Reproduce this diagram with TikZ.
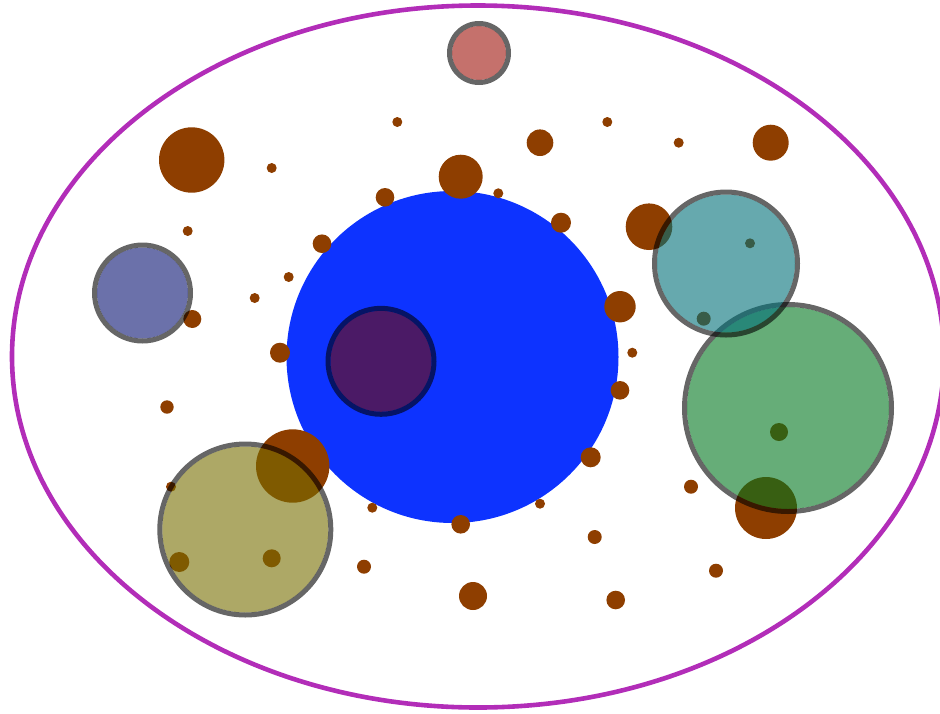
\documentclass[tikz,border=0pt]{standalone}
\begin{document}
\begin{tikzpicture}[x=1pt,y=-1pt]
\definecolor{ellc}{RGB}{178,45,184}
\definecolor{bluec}{RGB}{13,51,255}
\definecolor{brownc}{RGB}{142,62,0}
\definecolor{pinkc}{RGB}{158,18,10}
\definecolor{navyc}{RGB}{8,18,113}
\definecolor{tealc}{RGB}{0,112,120}
\definecolor{greenc}{RGB}{0,118,30}
\definecolor{olivec}{RGB}{118,110,0}
\definecolor{purplec}{RGB}{117,10,0}
\tikzset{
  glassfill/.style={fill opacity=0.6},
  glassring/.style={fill=black, fill opacity=0.6, even odd rule},
  dot/.style={fill=brownc}
}
\newcommand{\glasscircle}[4]{%
  \fill[glassfill, fill=#4] (#1,#2) circle[radius=#3pt-2.5pt];
  \fill[glassring] (#1,#2) circle[radius=#3pt-2.5pt] (#1,#2) circle[radius=#3pt+2.5pt];
}
\useasboundingbox (0,0) rectangle (940,713);
% outer ellipse
\draw[ellc, line width=4.6pt] (478,356.5) circle[x radius=466pt, y radius=351pt];
% big blue circle
\fill[bluec] (452.5,357) circle[radius=166pt];
% brown dots
\foreach \x/\y/\r in {
 191.7/160/32.7, 271.7/168/5, 397.3/122/5, 460.7/176.7/22, 540/142.7/13.3,
 607.3/122/5, 678.7/142.7/5, 770.7/142.7/18, 385/197.3/9.3, 498.3/193.3/5,
 561/222.7/10, 649/226.7/23.3, 322/243.7/9.3, 187.7/231/5, 288.7/277/5,
 254.7/298/5, 192.3/319/9, 280/352.7/10, 620/306.7/15.7, 632.3/352.7/5,
 620/390.3/9.3, 167/407/6.7, 292.7/466/36.7, 590.7/457.3/10, 171/486.7/5,
 372.3/507.7/5, 460.7/524.3/9.3, 540/503.7/5, 594.7/537/7, 691/486.7/7,
 766/508/31, 179.3/562/10, 271.7/558.3/9, 364/566.7/7, 473/596/14,
 615.7/600/9.3, 716/570.7/7, 750/243.3/5, 703.7/318.7/7, 779/432/9}
 \fill[dot] (\x,\y) circle[radius=\r pt];
% translucent circles
\glasscircle{479}{53}{29.5}{pinkc}
\glasscircle{142.5}{293}{48}{navyc}
\glasscircle{788}{408}{103.5}{greenc}
\glasscircle{726}{263.5}{71.5}{tealc}
\glasscircle{245.3}{529.5}{85.5}{olivec}
\glasscircle{381}{361.3}{53}{purplec}
\end{tikzpicture}
\end{document}
